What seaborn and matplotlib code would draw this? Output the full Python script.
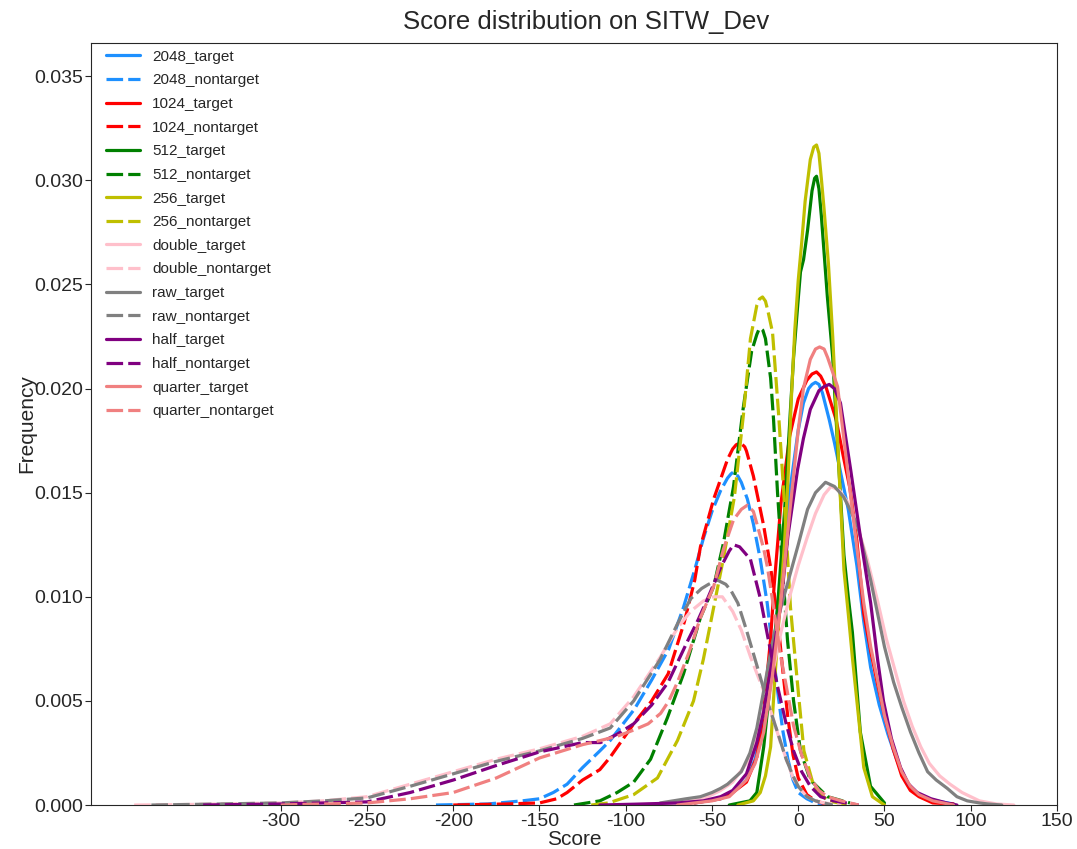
import seaborn as sns
import pandas as pd
import matplotlib.pyplot as plt

# densities (score, density)
t2048_x = [-60, -45, -38, -30, -25, -20, -15, -10, -5, 0, 3, 6, 8, 10, 12, 14, 18, 21, 25, 29, 34, 38, 42, 47, 52, 57, 62, 67, 72,
           80, 90]
t2048_y = [0.0001, 0.0003, 0.0006, 0.0012, 0.0022, 0.0040, 0.0070, 0.0110, 0.0150, 0.0180, 0.0193, 0.0200, 0.0202, 0.0203, 0.0202,
           0.0198, 0.0185, 0.0174, 0.0158, 0.0142, 0.0115, 0.0088, 0.0066, 0.0048, 0.0034, 0.0022, 0.0012, 0.0007, 0.0004, 0.0002,
           0.00005]
n2048_x = [-210, -180, -160, -150, -142, -134, -125, -115, -109, -95, -85, -75, -66.5, -60, -55, -50, -45, -41, -39, -37.5, -35,
           -33, -29.5, -26, -22, -18, -15, -12, -9, -6, -3, 0, 5, 10, 18]
n2048_y = [0.0, 0.00005, 0.0002, 0.0003, 0.0006, 0.0010, 0.0018, 0.0026, 0.0031, 0.0046, 0.0060, 0.0075, 0.0095, 0.0113, 0.0128,
           0.0141, 0.0151, 0.0157, 0.0159, 0.0160, 0.0158, 0.0155, 0.0147, 0.0135, 0.0118, 0.0097, 0.0076, 0.0055, 0.0036, 0.0022,
           0.0012, 0.0006, 0.0003, 0.0001, 0.0]

t1024_x = [-60, -45, -38, -30, -24, -20, -16, -14, -10, -5, 0, 5, 8, 10.6, 13, 16, 22, 26, 30, 34, 38, 42, 46, 50, 55, 60, 65, 70,
           78, 90]
t1024_y = [0.0001, 0.0003, 0.0006, 0.0011, 0.0023, 0.0045, 0.0080, 0.0105, 0.0145, 0.0177, 0.0195, 0.0204, 0.0207, 0.0208, 0.0206,
           0.0201, 0.0185, 0.0168, 0.0152, 0.0127, 0.0092, 0.0074, 0.0058, 0.0043, 0.0027, 0.0014, 0.0007, 0.0004, 0.0001, 0.00005]
n1024_x = [-200, -170, -150, -140, -134, -125, -115, -109, -95.4, -85, -75.4, -66, -60, -56.7, -49, -41, -38, -36, -33.5, -31, -30,
           -26, -20, -16, -12, -9, -6, -3, 0, 5, 10, 18]
n1024_y = [0.0, 0.00005, 0.0001, 0.0003, 0.0006, 0.0012, 0.0017, 0.0023, 0.0039, 0.0050, 0.0063, 0.0088, 0.0108, 0.0124, 0.0147,
           0.0166, 0.0171, 0.0173, 0.0174, 0.0172, 0.0170, 0.0158, 0.0134, 0.0114, 0.0090, 0.0065, 0.0042, 0.0024, 0.0013, 0.0005,
           0.0002, 0.0]

t512_x = [-40, -28, -24, -20, -16, -12, -8, -4.5, -2.7, -0.4, 1.3, 3.1, 5.4, 8, 9.5, 10.6, 12, 13.4, 16.9, 20, 23, 26.5, 29, 31.4,
          36, 41.9, 50]
t512_y = [0.0, 0.0002, 0.0006, 0.0028, 0.0060, 0.0095, 0.0140, 0.0190, 0.0215, 0.0239, 0.0256, 0.0262, 0.0276, 0.0295, 0.0301,
          0.0302, 0.0296, 0.0283, 0.0244, 0.0215, 0.0170, 0.0120, 0.0100, 0.0083, 0.0035, 0.0009, 0.0001]
n512_x = [-130, -115, -105, -95.4, -85.6, -75.8, -66.5, -56.7, -49, -43.3, -37.5, -32, -27, -24, -23, -21.9, -20.5, -19, -16,
          -14.3, -12, -9, -6.2, -2.7, 1.3, 7, 17, 30]
n512_y = [0.0, 0.0002, 0.0006, 0.0011, 0.0022, 0.0042, 0.0063, 0.0090, 0.0105, 0.0126, 0.0153, 0.0190, 0.0218, 0.0226, 0.0228,
          0.0229, 0.0228, 0.0224, 0.0205, 0.0185, 0.0150, 0.0112, 0.0079, 0.0050, 0.0026, 0.0012, 0.0004, 0.0001]

t256_x = [-35, -26, -22, -19, -16, -14, -12, -10, -8, -6, -4, -2, 0, 2, 4, 7, 9, 10.6, 12, 13.5, 15, 17.5, 20, 21, 23.5, 26.5,
          29, 31.5, 34, 38, 43, 50]
t256_y = [0.0, 0.0002, 0.0006, 0.0014, 0.0028, 0.0055, 0.0080, 0.0102, 0.0125, 0.0155, 0.0195, 0.0228, 0.0252, 0.0270, 0.0290,
          0.0310, 0.0316, 0.0317, 0.0313, 0.0300, 0.0286, 0.0260, 0.0225, 0.0208, 0.0163, 0.0113, 0.0092, 0.0070, 0.0050, 0.0018,
          0.0004, 0.0]
n256_x = [-120, -110, -95.4, -81.6, -70, -60.7, -55, -49, -43, -37, -31.7, -27.7, -24, -22.5, -20.7, -19, -17.5, -14.9, -11.4,
          -8, -4.5, -0.5, 3.3, 9, 17, 30]
n256_y = [0.0, 0.0001, 0.0005, 0.0013, 0.0031, 0.0050, 0.0070, 0.0095, 0.0120, 0.0148, 0.0188, 0.0224, 0.0240, 0.0243, 0.0244,
          0.0242, 0.0237, 0.0227, 0.0188, 0.0145, 0.0095, 0.0059, 0.0026, 0.0009, 0.0002, 0.0]

tdouble_x = [-100, -70, -55, -45, -38, -30, -25, -20, -15, -10, -5, 0, 5, 10, 15, 19, 24, 29, 34, 40, 46, 51, 56, 61, 66, 71, 76,
             82, 88, 95, 105, 115, 125]
tdouble_y = [0.0, 0.0001, 0.0003, 0.0007, 0.0011, 0.0020, 0.0030, 0.0045, 0.0063, 0.0083, 0.0100, 0.0115, 0.0128, 0.0140, 0.0149,
             0.0153, 0.0151, 0.0145, 0.0135, 0.0118, 0.0098, 0.0080, 0.0065, 0.0050, 0.0038, 0.0028, 0.0020, 0.0014, 0.0010,
             0.0006, 0.0002, 0.00005, 0.0]
ndouble_x = [-385, -350, -300, -275, -250, -225, -200, -175, -150, -125, -109, -95.4, -80, -70, -62.4, -55, -49, -44, -38, -33,
             -27.6, -22, -17.8, -14, -10.3, -6, -3, 0, 5, 10, 15, 25]
ndouble_y = [0.0, 0.00003, 0.0001, 0.0002, 0.0004, 0.0010, 0.0016, 0.0022, 0.0027, 0.0033, 0.0039, 0.0052, 0.0071, 0.0085, 0.0093,
             0.0098, 0.0100, 0.0100, 0.0093, 0.0084, 0.0071, 0.0059, 0.0050, 0.0040, 0.0030, 0.0020, 0.0013, 0.0009, 0.0004,
             0.0002, 0.0001, 0.0]

traw_x = [-80, -65, -56.7, -50, -45, -41, -37, -33, -28, -24, -20, -15, -10, -5, 0, 5.4, 10, 15.8, 21, 26.3, 30, 34.4, 38, 42, 46,
          50, 55.3, 60, 65.1, 70, 75, 80, 86.4, 92, 98, 105, 110, 118]
traw_y = [0.0001, 0.0003, 0.0004, 0.0006, 0.0008, 0.0010, 0.0013, 0.0016, 0.0025, 0.0037, 0.0055, 0.0078, 0.0095, 0.0110, 0.0125,
          0.0142, 0.0150, 0.0155, 0.0153, 0.0148, 0.0142, 0.0134, 0.0122, 0.0108, 0.0092, 0.0076, 0.0059, 0.0047, 0.0035, 0.0025,
          0.0016, 0.0012, 0.0008, 0.0004, 0.0002, 0.0001, 0.00005, 0.0]
nraw_x = [-375, -350, -300, -275, -250, -225, -200, -175, -150, -125, -109, -95.4, -80, -70, -62.4, -56, -52, -46.8, -42, -39, -35,
          -30, -23.6, -18, -12, -7, -3, 0, 5, 10, 20]
nraw_y = [0.0, 0.00003, 0.0001, 0.0002, 0.00034, 0.0009, 0.0015, 0.0021, 0.0026, 0.0032, 0.0037, 0.0050, 0.0070, 0.0087, 0.0099,
          0.0104, 0.0106, 0.0108, 0.0106, 0.0103, 0.0097, 0.0084, 0.0066, 0.0050, 0.0035, 0.0022, 0.0014, 0.0009, 0.0004, 0.0002,
          0.0]

thalf_x = [-115, -90, -70, -55, -45, -38, -30, -24, -20, -15, -10, -6, -0.4, 3, 7, 12, 15, 18, 21, 24.5, 30.4, 36, 42, 46, 49.4,
           54, 59.3, 64, 69, 77, 86, 92]
thalf_y = [0.0, 0.00005, 0.0001, 0.0002, 0.0004, 0.0007, 0.0015, 0.0030, 0.0045, 0.0070, 0.0097, 0.0129, 0.0161, 0.0176, 0.0190,
           0.0199, 0.0201, 0.0202, 0.0200, 0.0193, 0.0161, 0.0129, 0.0097, 0.0070, 0.0050, 0.0032, 0.0018, 0.0010, 0.0006, 0.0003,
           0.0001, 0.0]
nhalf_x = [-345, -300, -275, -250, -225, -200, -175, -150, -125, -114.6, -105, -95.4, -85, -75.4, -64, -58, -52.6, -45, -40, -37.5,
           -34, -27.7, -21.9, -17, -12, -7, -2.7, 2, 7, 13, 20.5, 35]
nhalf_y = [0.0, 0.00005, 0.0001, 0.00015, 0.0006, 0.0012, 0.0019, 0.00255, 0.0030, 0.0030, 0.0034, 0.0039, 0.0048, 0.0059, 0.0079,
           0.0089, 0.0099, 0.0114, 0.0122, 0.0125, 0.0124, 0.0118, 0.0099, 0.0078, 0.0057, 0.0039, 0.0026, 0.0016, 0.0009, 0.0004,
           0.0002, 0.0]

tquarter_x = [-70, -50, -40, -30, -25, -20, -15, -10, -5, 0, 3, 7, 10, 12.4, 15, 17, 22.8, 28.6, 34.4, 38, 42, 46, 50, 55, 60, 65,
              70, 78, 90]
tquarter_y = [0.0, 0.0002, 0.0004, 0.0012, 0.0020, 0.0035, 0.0062, 0.0098, 0.0140, 0.0180, 0.0200, 0.0214, 0.0219, 0.0220, 0.0219,
              0.0215, 0.0201, 0.0161, 0.0121, 0.0097, 0.0076, 0.0060, 0.0043, 0.0028, 0.0016, 0.0009, 0.0005, 0.0002, 0.0]
nquarter_x = [-300, -275, -250, -225, -200, -175, -150, -125, -114.6, -105, -95.4, -87, -79.8, -75, -70, -63, -56.7, -49, -43.3,
              -37.5, -33, -29.5, -26, -23.6, -20, -17.8, -14.3, -10.3, -6, -2.7, 2, 7, 12, 17, 25, 35]
nquarter_y = [0.0, 0.00005, 0.0001, 0.0003, 0.0006, 0.0013, 0.00226, 0.0029, 0.0031, 0.0033, 0.0036, 0.0039, 0.0044, 0.0050,
              0.0059, 0.0074, 0.0090, 0.0105, 0.0123, 0.0137, 0.0142, 0.0144, 0.0141, 0.0134, 0.0123, 0.0114, 0.0095, 0.0072,
              0.0053, 0.0038, 0.0024, 0.0013, 0.0007, 0.0004, 0.0002, 0.0]

systems = ['2048', '1024', '512', '256', 'double', 'raw', 'half', 'quarter']
colors = ['dodgerblue', 'red', 'green', 'y', 'pink', 'gray', 'purple', 'lightcoral']
curves = {
    '2048': ((t2048_x, t2048_y), (n2048_x, n2048_y)),
    '1024': ((t1024_x, t1024_y), (n1024_x, n1024_y)),
    '512': ((t512_x, t512_y), (n512_x, n512_y)),
    '256': ((t256_x, t256_y), (n256_x, n256_y)),
    'double': ((tdouble_x, tdouble_y), (ndouble_x, ndouble_y)),
    'raw': ((traw_x, traw_y), (nraw_x, nraw_y)),
    'half': ((thalf_x, thalf_y), (nhalf_x, nhalf_y)),
    'quarter': ((tquarter_x, tquarter_y), (nquarter_x, nquarter_y)),
}

sns.set_style('ticks')
plt.rcParams['font.family'] = ['Liberation Sans', 'DejaVu Sans']
plt.rcParams['axes.unicode_minus'] = False

fig, ax = plt.subplots(figsize=(10.77, 8.49), dpi=100)
fig.subplots_adjust(left=0.0845, right=0.9814, bottom=0.0518, top=0.9494)

for name, color in zip(systems, colors):
    (tx, ty), (nx, ny) = curves[name]
    df_t = pd.DataFrame({'score': tx, 'density': ty})
    df_n = pd.DataFrame({'score': nx, 'density': ny})
    sns.lineplot(data=df_t, x='score', y='density', color=color, linewidth=2.3, label=name + '_target', ax=ax)
    sns.lineplot(data=df_n, x='score', y='density', color=color, linewidth=2.3, linestyle=(0, (5.2, 1.6)),
                 label=name + '_nontarget', ax=ax)

ax.set_xlim(-410, 150)
ax.set_ylim(0, 0.0366)
ax.set_xticks(range(-300, 151, 50))
ax.tick_params(labelsize=14, length=4, pad=2)
ax.set_xlabel('Score', fontsize=15, labelpad=0)
ax.set_ylabel('Frequency', fontsize=15, labelpad=-1.5)
ax.set_title('Score distribution on SITW_Dev', fontsize=18.5, pad=10, x=0.513)
ax.legend(loc='upper left', bbox_to_anchor=(0.0065, 1.003), frameon=False, fontsize=11, labelspacing=0.63,
          handlelength=2.2, borderaxespad=0.2)

plt.savefig('out.png')
